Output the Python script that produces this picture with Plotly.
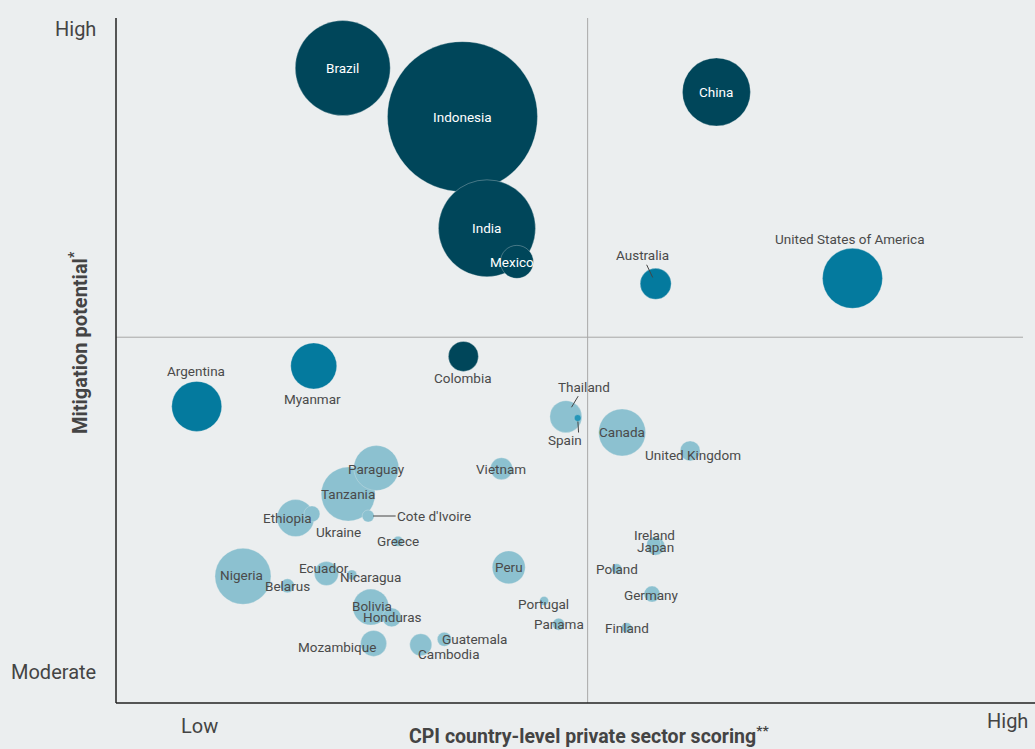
import plotly.graph_objects as go

# ---- data -------------------------------------------------------------
countries = [
    "Brazil", "Indonesia", "India", "Mexico", "China", "Australia",
    "United States of America", "Argentina", "Myanmar", "Colombia",
    "Thailand", "Spain", "Canada", "United Kingdom", "Vietnam", "Peru",
    "Portugal", "Panama", "Ireland", "Japan", "Poland", "Germany", "Finland",
    "Paraguay", "Tanzania", "Cote d'Ivoire", "Ethiopia", "Ukraine", "Greece",
    "Nigeria", "Belarus", "Ecuador", "Nicaragua", "Bolivia", "Honduras",
    "Mozambique", "Cambodia", "Guatemala",
]
# CPI country-level private sector scoring (0 = low, 100 = high)
cpi_score = [
    25.0, 38.2, 40.9, 44.2, 66.2, 59.5,
    81.2, 8.9, 21.8, 38.3,
    49.6, 50.9, 55.8, 63.3, 42.5, 43.3,
    47.2, 48.8, 59.3, 59.5, 55.2, 59.1, 56.3,
    28.7, 25.6, 27.8, 19.8, 21.6, 31.1,
    14.0, 18.9, 23.2, 26.0, 28.1, 30.4,
    28.4, 33.6, 36.2,
]
# Mitigation potential (0 = moderate, 100 = high)
mitigation = [
    92.7, 85.6, 69.3, 64.4, 89.2, 61.2,
    62.0, 43.3, 49.2, 50.6,
    41.8, 41.6, 39.5, 36.8, 34.2, 19.8,
    14.9, 11.5, 23.2, 22.9, 19.6, 15.9, 11.0,
    34.3, 30.5, 27.3, 27.0, 27.6, 23.6,
    18.5, 17.1, 18.9, 18.7, 14.0, 12.5,
    8.7, 8.5, 9.3,
]
# Bubble size value (area-proportional)
size_value = [
    2256, 5625, 2352, 272, 1156, 240,
    900, 625, 529, 225,
    256, 12, 552, 100, 121, 272,
    20, 36, 49, 81, 25, 64, 25,
    506, 729, 36, 342, 64, 25,
    784, 49, 144, 25, 324, 90,
    169, 121, 49,
]
# Colour group of each country
group = [
    "dark", "dark", "dark", "dark", "dark", "mid",
    "mid", "mid", "mid", "dark",
    "light", "spain", "light", "light", "light", "light",
    "light", "light", "light", "light", "light", "light", "light",
    "light", "light", "light", "light", "light", "light",
    "light", "light", "light", "light", "light", "light",
    "light", "light", "light",
]
x_mid = 52.0
y_mid = 53.4

# ---- styling ------------------------------------------------------------
BG = "#ebeeef"
FONT = "Roboto"
TEXT = "#4a4a4a"
group_color = {"dark": "#00465a", "mid": "#047a9e", "light": "#8cc1d0", "spain": "#2496b8"}
white_labels = {"Brazil", "Indonesia", "India", "Mexico", "China"}

# label offsets in screen pixels (dx right, dy down) and optional leader lines
label_style = {
    "Mexico": dict(dx=-5, dy=0),
    "Australia": dict(dx=-13.5, dy=-28.5, arrow=True, standoff=7),
    "United States of America": dict(dx=-2, dy=-39),
    "Argentina": dict(dx=-1, dy=-35),
    "Myanmar": dict(dx=-1, dy=33),
    "Colombia": dict(dx=0, dy=22),
    "Thailand": dict(dx=18, dy=-30, arrow=True, standoff=11),
    "Spain": dict(dx=-13, dy=22),
    "United Kingdom": dict(dx=3, dy=4),
    "Portugal": dict(dx=-1, dy=3),
    "Ireland": dict(dx=1, dy=-9),
    "Japan": dict(dx=0, dy=1),
    "Germany": dict(dx=-1, dy=1),
    "Paraguay": dict(dx=0, dy=1),
    "Cote d'Ivoire": dict(dx=66, dy=0, arrow=True, standoff=5),
    "Ethiopia": dict(dx=-8, dy=0),
    "Ukraine": dict(dx=27, dy=18),
    "Nigeria": dict(dx=-1, dy=-1),
    "Ecuador": dict(dx=-2, dy=-6),
    "Nicaragua": dict(dx=19, dy=2),
    "Bolivia": dict(dx=1, dy=-1),
    "Mozambique": dict(dx=-37, dy=4),
    "Cambodia": dict(dx=28, dy=9.5),
    "Guatemala": dict(dx=30, dy=0),
}

# draw larger bubbles first so the small ones sit on top
order = sorted(range(len(countries)), key=lambda i: -size_value[i])

fig = go.Figure()
fig.add_trace(go.Scatter(
    x=[cpi_score[i] for i in order],
    y=[mitigation[i] for i in order],
    mode="markers",
    text=[countries[i] for i in order],
    hoverinfo="text",
    marker=dict(
        size=[size_value[i] for i in order],
        sizemode="area",
        sizeref=0.5,
        color=[group_color[group[i]] for i in order],
        opacity=1,
        line=dict(width=0.6, color="rgba(235,238,239,0.5)"),
    ),
    showlegend=False,
))

annotations = []
for i, name in enumerate(countries):
    st = label_style.get(name, dict(dx=0, dy=0))
    color = "#ffffff" if name in white_labels else TEXT
    font = dict(family=FONT, size=13.5, color=color)
    if st.get("arrow"):
        annotations.append(dict(
            x=cpi_score[i], y=mitigation[i], xref="x", yref="y", text=name,
            showarrow=True, ax=st["dx"], ay=st["dy"], arrowhead=0,
            arrowwidth=1, arrowcolor="#444444", standoff=st["standoff"],
            font=font,
        ))
    else:
        annotations.append(dict(
            x=cpi_score[i], y=mitigation[i], xref="x", yref="y", text=name,
            showarrow=False, xshift=st["dx"], yshift=-st["dy"], font=font,
        ))

# short vertical leader for Spain
si = countries.index("Spain")
annotations.append(dict(
    x=cpi_score[si], y=mitigation[si], xref="x", yref="y", text="",
    showarrow=True, ax=1, ay=16, arrowhead=0, arrowwidth=1,
    arrowcolor="#444444", standoff=3.5,
))

# axis end labels and titles
tick_font = dict(family=FONT, size=20, color="#444444")
annotations += [
    dict(x=-0.0198, y=0.984, xref="paper", yref="paper", text="High",
         xanchor="right", yanchor="middle", showarrow=False, font=tick_font),
    dict(x=-0.0198, y=0.045, xref="paper", yref="paper", text="Moderate",
         xanchor="right", yanchor="middle", showarrow=False, font=tick_font),
    dict(x=0.0926, y=-0.0336, xref="paper", yref="paper", text="Low",
         xanchor="center", yanchor="middle", showarrow=False, font=tick_font),
    dict(x=0.9825, y=-0.0263, xref="paper", yref="paper", text="High",
         xanchor="center", yanchor="middle", showarrow=False, font=tick_font),
    dict(x=0.5215, y=-0.046, xref="paper", yref="paper",
         text="<b>CPI country-level private sector scoring<sup>**</sup></b>",
         xanchor="center", yanchor="middle", showarrow=False,
         font=dict(family=FONT, size=19.5, color="#444444")),
    dict(x=-0.0408, y=0.527, xref="paper", yref="paper",
         text="<b>Mitigation potential<sup>*</sup></b>", textangle=-90,
         xanchor="center", yanchor="middle", showarrow=False,
         font=dict(family=FONT, size=20, color="#444444")),
]

shapes = [
    # quadrant dividers
    dict(type="line", xref="x", yref="y", x0=x_mid, x1=x_mid, y0=0, y1=100,
         line=dict(color="#a8a8a8", width=1), layer="below"),
    dict(type="line", xref="x", yref="y", x0=0, x1=100, y0=y_mid, y1=y_mid,
         line=dict(color="#a8a8a8", width=1), layer="below"),
    # baseline running to the right edge
    dict(type="line", xref="paper", yref="paper", x0=0, x1=1.0135, y0=0, y1=0,
         line=dict(color="#222222", width=1.5)),
    dict(type="line", xref="paper", yref="paper", x0=0, x1=0, y0=0, y1=1,
         line=dict(color="#222222", width=1.5)),
]

fig.update_layout(
    width=1035, height=749,
    margin=dict(l=116, r=12, t=18, b=46),
    paper_bgcolor=BG, plot_bgcolor=BG,
    xaxis=dict(range=[0, 100], showgrid=False, zeroline=False,
               showticklabels=False, showline=False, fixedrange=True),
    yaxis=dict(range=[0, 100], showgrid=False, zeroline=False,
               showticklabels=False, showline=False, fixedrange=True),
    annotations=annotations,
    shapes=shapes,
    font=dict(family=FONT),
)

fig.write_html("out.html")
